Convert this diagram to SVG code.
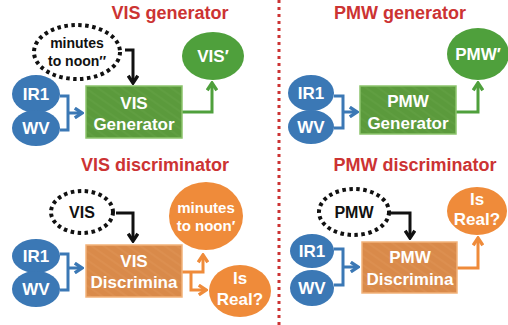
<svg xmlns="http://www.w3.org/2000/svg" width="508" height="325" viewBox="0 0 508 325">
<defs>
<style>
.t{font-family:"Liberation Sans",Arial,sans-serif;font-weight:bold;text-anchor:middle}
.title{fill:#cc3333;font-size:18px}
.w{fill:#ffffff;font-size:17px}
.k{fill:#111111;font-size:14px}
.blue{fill:#3b78b5}
.gc{fill:#4fa03c}
.oc{fill:#ef8b3a}
.gbox{fill:url(#gtex);stroke:#8cc46c;stroke-width:1.5}
.obox{fill:url(#otex);stroke:#f2b27a;stroke-width:1.5}
.dot{fill:#ffffff;stroke:#111111;stroke-width:4;stroke-dasharray:3.5 3.5}
.ln{fill:none;stroke-width:3;stroke-linejoin:miter}
</style>
<pattern id="gtex" patternUnits="userSpaceOnUse" width="7" height="7" patternTransform="rotate(35)">
<rect width="7" height="7" fill="#5b9a3c"/>
<line x1="0" y1="2" x2="7" y2="2" stroke="#64a345" stroke-width="1"/>
</pattern>
<pattern id="otex" patternUnits="userSpaceOnUse" width="7" height="7" patternTransform="rotate(35)">
<rect width="7" height="7" fill="#d98a4a"/>
<line x1="0" y1="2" x2="7" y2="2" stroke="#e09455" stroke-width="1"/>
</pattern>
<marker id="ak" viewBox="0 0 10 10" refX="8" refY="5" markerWidth="12" markerHeight="12" markerUnits="userSpaceOnUse" orient="auto"><path d="M2,1 L8,5 L2,9" fill="none" stroke="#111111" stroke-width="2.8"/></marker>
<marker id="ab" viewBox="0 0 10 10" refX="8" refY="5" markerWidth="12" markerHeight="12" markerUnits="userSpaceOnUse" orient="auto"><path d="M2,1 L8,5 L2,9" fill="none" stroke="#3b78b5" stroke-width="2.8"/></marker>
<marker id="ag" viewBox="0 0 10 10" refX="8" refY="5" markerWidth="12" markerHeight="12" markerUnits="userSpaceOnUse" orient="auto"><path d="M2,1 L8,5 L2,9" fill="none" stroke="#4fa03c" stroke-width="2.8"/></marker>
<marker id="ao" viewBox="0 0 10 10" refX="8" refY="5" markerWidth="12" markerHeight="12" markerUnits="userSpaceOnUse" orient="auto"><path d="M2,1 L8,5 L2,9" fill="none" stroke="#ef8b3a" stroke-width="2.8"/></marker>
</defs>
<rect width="508" height="325" fill="#ffffff"/>
<line x1="279" y1="0" x2="279" y2="325" stroke="#cc3333" stroke-width="3" stroke-dasharray="3 4"/>
<g id="titles">
<text class="t title" x="170" y="19">VIS generator</text>
<text class="t title" x="400" y="19">PMW generator</text>
<text class="t title" x="155" y="171">VIS discriminator</text>
<text class="t title" x="415" y="171">PMW discriminator</text>
</g>
<g id="connectors">
<path class="ln" stroke="#111111" d="M125,50 H133 V83" marker-end="url(#ak)"/>
<path class="ln" stroke="#3b78b5" d="M60,96 H68 V130 H60"/>
<path class="ln" stroke="#3b78b5" d="M68,113 H82" marker-end="url(#ab)"/>
<path class="ln" stroke="#4fa03c" d="M182,112 H212 V83" marker-end="url(#ag)"/>
<path class="ln" stroke="#3b78b5" d="M334,96 H343 V128 H334"/>
<path class="ln" stroke="#3b78b5" d="M343,112 H357" marker-end="url(#ab)"/>
<path class="ln" stroke="#4fa03c" d="M456,112 H478 V83" marker-end="url(#ag)"/>
<path class="ln" stroke="#111111" d="M116,213 H133 V241" marker-end="url(#ak)"/>
<path class="ln" stroke="#3b78b5" d="M60,254 H68 V290 H60"/>
<path class="ln" stroke="#3b78b5" d="M68,268 H82" marker-end="url(#ab)"/>
<path class="ln" stroke="#ef8b3a" d="M182,272 H203 V255" marker-end="url(#ao)"/>
<path class="ln" stroke="#ef8b3a" d="M191,272 V290 H206" marker-end="url(#ao)"/>
<path class="ln" stroke="#111111" d="M389,213 H410 V238" marker-end="url(#ak)"/>
<path class="ln" stroke="#3b78b5" d="M334,249 H343 V285 H334"/>
<path class="ln" stroke="#3b78b5" d="M343,267 H358" marker-end="url(#ab)"/>
<path class="ln" stroke="#ef8b3a" d="M457,268 H478 V238" marker-end="url(#ao)"/>
</g>
<g id="vg-minutes"><ellipse class="dot" cx="77" cy="52" rx="43" ry="27"/><text class="t k" x="77" y="48">minutes</text><text class="t k" x="77" y="66">to noon′′</text></g>
<g id="vg-ir1"><ellipse class="blue" cx="36" cy="94" rx="24" ry="19"/><text class="t w" x="36" y="100">IR1</text></g>
<g id="vg-wv"><ellipse class="blue" cx="36" cy="128" rx="24" ry="18"/><text class="t w" x="36" y="134">WV</text></g>
<g id="vg-box"><rect class="gbox" x="86" y="86" width="96" height="52"/><text class="t w" x="134" y="109">VIS</text><text class="t w" x="134" y="130">Generator</text></g>
<g id="vg-out"><ellipse class="gc" cx="213" cy="56" rx="31" ry="24"/><text class="t w" x="213" y="62">VIS′</text></g>
<g id="pg-ir1"><ellipse class="blue" cx="311" cy="93" rx="23" ry="18"/><text class="t w" x="311" y="99">IR1</text></g>
<g id="pg-wv"><ellipse class="blue" cx="311" cy="127" rx="23" ry="17"/><text class="t w" x="311" y="133">WV</text></g>
<g id="pg-box"><rect class="gbox" x="360" y="86" width="96" height="48"/><text class="t w" x="408" y="107">PMW</text><text class="t w" x="408" y="129">Generator</text></g>
<g id="pg-out"><ellipse class="gc" cx="478" cy="54" rx="31" ry="26"/><text class="t w" x="478" y="60">PMW′</text></g>
<g id="vd-vis"><ellipse class="dot" cx="82" cy="212" rx="31" ry="21"/><text class="t k" x="82" y="218" style="font-size:16px">VIS</text></g>
<g id="vd-ir1"><ellipse class="blue" cx="36" cy="256" rx="24" ry="17"/><text class="t w" x="36" y="262">IR1</text></g>
<g id="vd-wv"><ellipse class="blue" cx="36" cy="289" rx="24" ry="18"/><text class="t w" x="36" y="295">WV</text></g>
<g id="vd-box"><rect class="obox" x="86" y="245" width="96" height="52"/><text class="t w" x="134" y="267">VIS</text><text class="t w" x="134" y="288">Discrimina</text></g>
<g id="vd-minutes"><ellipse class="oc" cx="206" cy="216" rx="37" ry="34"/><text class="t w" x="206" y="213" style="font-size:15px">minutes</text><text class="t w" x="206" y="231" style="font-size:15px">to noon′</text></g>
<g id="vd-real"><ellipse class="oc" cx="240" cy="291" rx="31" ry="26"/><text class="t w" x="240" y="284">Is</text><text class="t w" x="240" y="305">Real?</text></g>
<g id="pd-pmw"><ellipse class="dot" cx="354" cy="212" rx="35" ry="23"/><text class="t k" x="354" y="218" style="font-size:16px">PMW</text></g>
<g id="pd-ir1"><ellipse class="blue" cx="312" cy="251" rx="22" ry="17"/><text class="t w" x="312" y="257">IR1</text></g>
<g id="pd-wv"><ellipse class="blue" cx="312" cy="288" rx="22" ry="18"/><text class="t w" x="312" y="294">WV</text></g>
<g id="pd-box"><rect class="obox" x="362" y="242" width="95" height="51"/><text class="t w" x="410" y="263">PMW</text><text class="t w" x="410" y="285">Discrimina</text></g>
<g id="pd-real"><ellipse class="oc" cx="477" cy="211" rx="30" ry="24"/><text class="t w" x="477" y="205">Is</text><text class="t w" x="477" y="225">Real?</text></g>
</svg>
